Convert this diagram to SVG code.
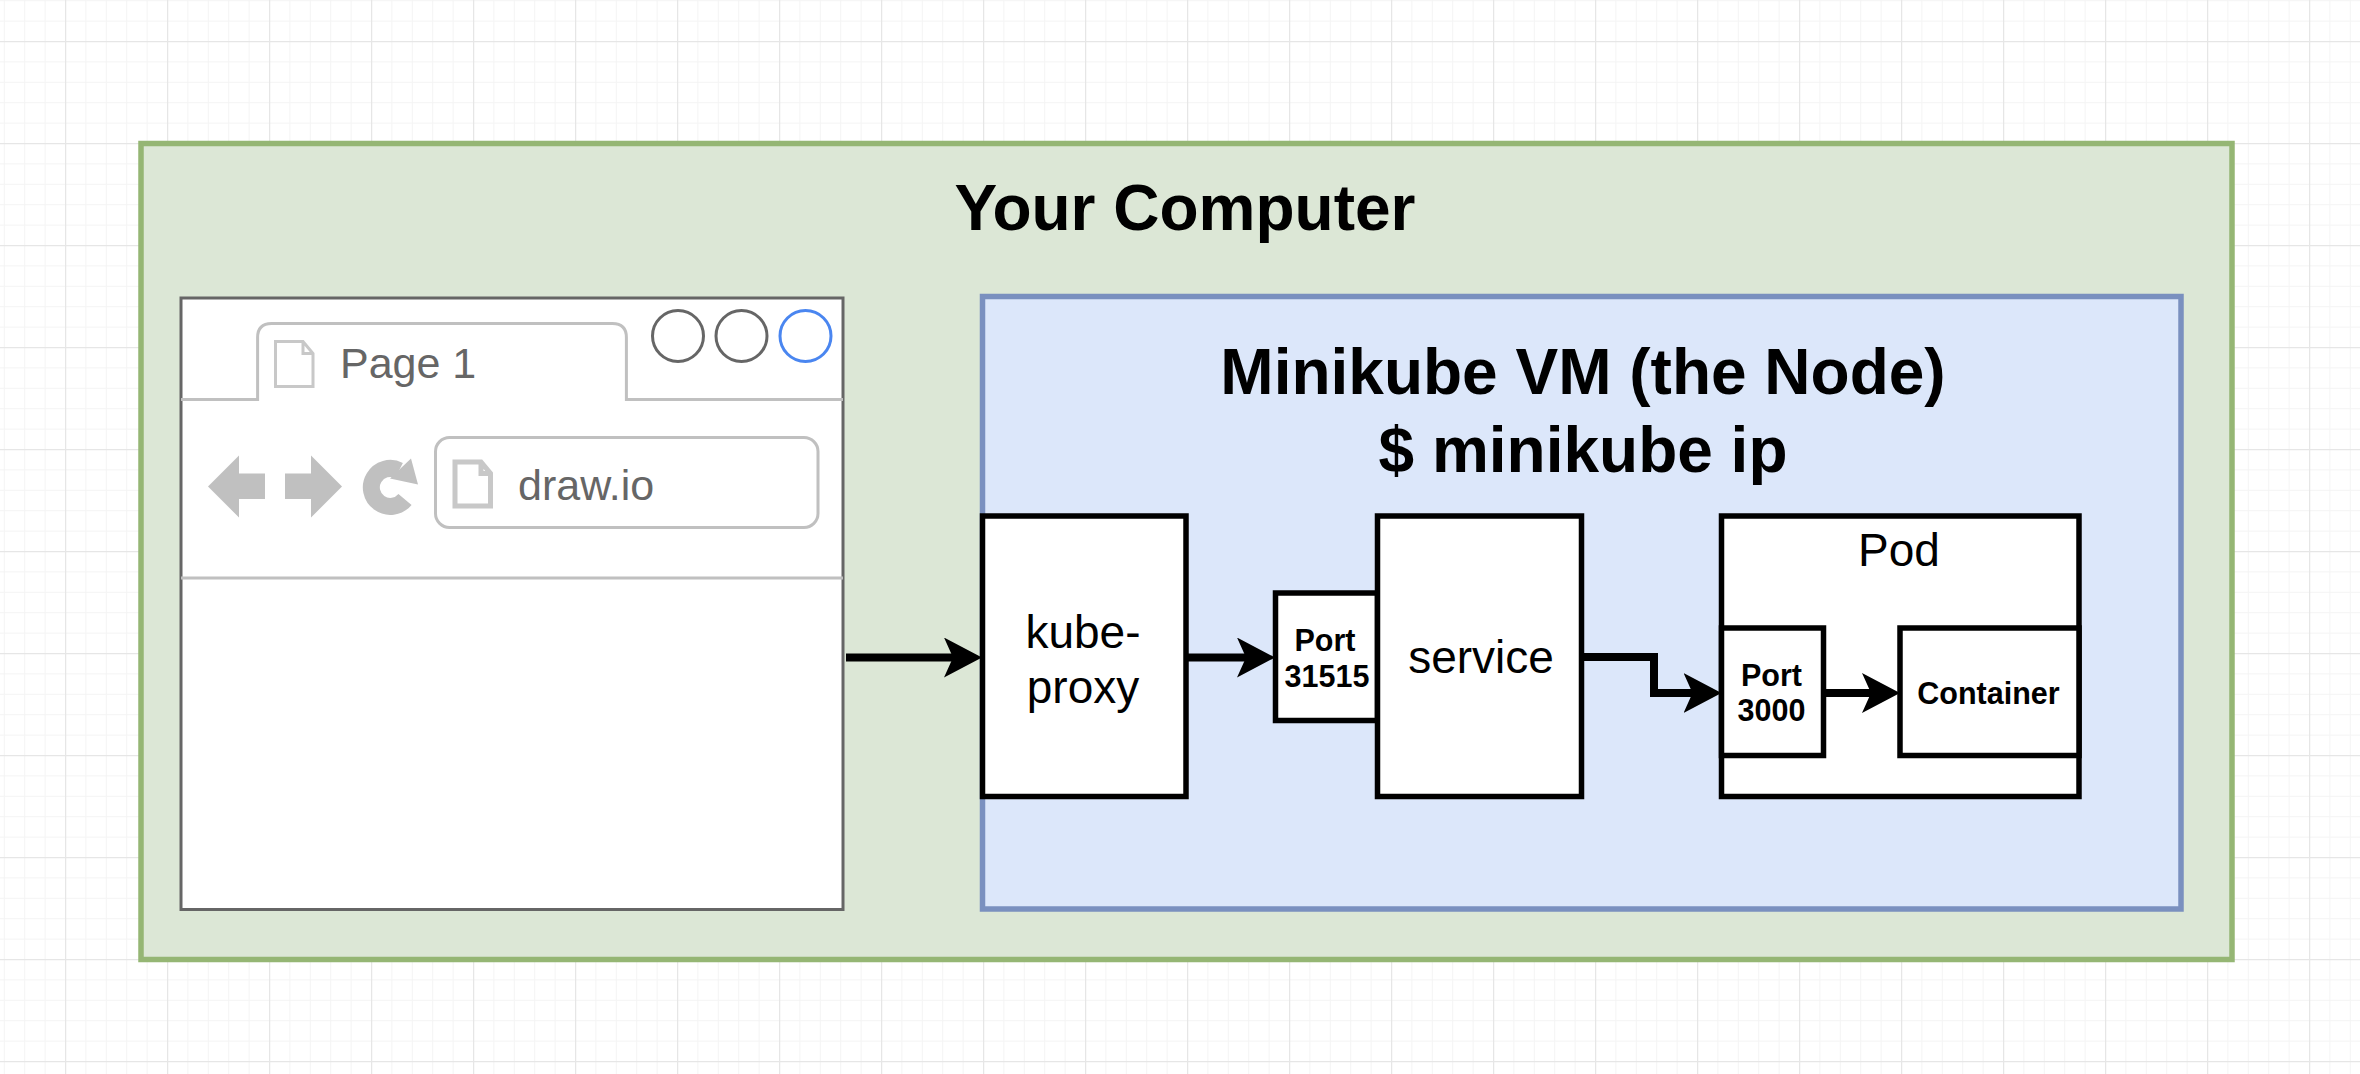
<svg xmlns="http://www.w3.org/2000/svg" width="2360" height="1074" viewBox="0 0 2360 1074">
<style>
text{font-family:"Liberation Sans",Arial,sans-serif;text-anchor:middle;fill:#000}
.h{font-size:64px;font-weight:700}
.n{font-size:46px}
.b{font-size:30.5px;font-weight:700}
.g{fill:#666;text-anchor:start;font-size:43px}
.box{fill:#fff;stroke:#000;stroke-width:5.5}
.ln{fill:#fff;stroke:#c0c0c0;stroke-width:3}
.c{fill:none;stroke:#000;stroke-width:8;marker-end:url(#ah)}
</style>
<defs>
<pattern id="grid" patternUnits="userSpaceOnUse" x="65" y="41" width="102" height="102">
<path d="M20.9 0V102M41.3 0V102M61.7 0V102M82.1 0V102M0 20.9H102M0 41.3H102M0 61.7H102M0 82.1H102" fill="none" stroke="#f4f4f4" stroke-width="1"/>
<path d="M.5 0V102M0 .5H102" fill="none" stroke="#e6e6e6" stroke-width="1.5"/>
</pattern>
<marker id="ah" markerUnits="userSpaceOnUse" markerWidth="38" markerHeight="40" viewBox="0 0 38 40" refX="12" refY="20" orient="auto">
<path d="M0 0L38 20L0 40L9 20Z" fill="#000"/>
</marker>
</defs>
<rect width="2360" height="1074" fill="#fff"/>
<rect width="2360" height="1074" fill="url(#grid)"/>
<g id="computer">
<rect x="141" y="143.500" width="2091" height="816" fill="#dce7d6" stroke="#95b674" stroke-width="5.500"/>
<text class="h" x="1185" y="230">Your Computer</text>
</g>
<g id="browser">
<rect x="181" y="298" width="662" height="611.500" fill="#fff" stroke="#666" stroke-width="3"/>
<path d="M181 399.500H257.600V337.500Q257.600 323.500 271.600 323.500H612.400Q626.400 323.500 626.400 337.500V399.500H843M181 578H843" fill="none" stroke="#c0c0c0" stroke-width="3"/>
<path d="M275.500 341.500H303L313 353.500V386.500H275.500ZM303 341.500V353.500H313" fill="#fff" stroke="#c8c8c8" stroke-width="3"/>
<text class="g" x="340" y="378">Page 1</text>
<circle cx="678" cy="336" r="25.500" fill="none" stroke="#666" stroke-width="3"/>
<circle cx="741.500" cy="336" r="25.500" fill="none" stroke="#666" stroke-width="3"/>
<circle cx="805.500" cy="336" r="25.500" fill="none" stroke="#4a86f0" stroke-width="3"/>
<path d="M208 486.500L239 455.500V473.500H265V499H239V517.500Z" fill="#c0c0c0"/>
<path d="M342 486.500L311 455.500V473.500H285V499H311V517.500Z" fill="#c0c0c0"/>
<path d="M405 499.500A19 19 0 1 1 399 470.500" fill="none" stroke="#c0c0c0" stroke-width="17"/>
<path d="M411 458.500L418 484.500L390 478.500Z" fill="#c0c0c0"/>
<rect class="ln" x="435.500" y="437.500" width="382.500" height="90" rx="14"/>
<path d="M455 462H481L490.500 473.500V506H455ZM481 462V473.500H490.500" fill="#fff" stroke="#c8c8c8" stroke-width="5"/>
<text class="g" x="518" y="500">draw.io</text>
</g>
<g id="minikube-vm">
<rect x="982.500" y="296.500" width="1198.500" height="612.500" fill="#dce7fa" stroke="#7a90bf" stroke-width="5.500"/>
<text class="h" x="1583" y="394">Minikube VM (the Node)</text>
<text class="h" x="1583" y="472">$ minikube ip</text>
</g>
<g id="kube-proxy">
<rect class="box" x="982.500" y="516" width="203.500" height="280.500"/>
<text class="n" x="1083" y="648">kube-</text>
<text class="n" x="1083" y="703">proxy</text>
</g>
<g id="port-31515">
<rect class="box" x="1275.500" y="593" width="102" height="127.500"/>
<text class="b" x="1325" y="651">Port</text>
<text class="b" x="1327" y="687">31515</text>
</g>
<g id="service">
<rect class="box" x="1377.500" y="516" width="204" height="280.500"/>
<text class="n" x="1481" y="673">service</text>
</g>
<g id="pod">
<rect class="box" x="1721.500" y="516" width="357.500" height="280.500"/>
<text class="n" x="1899" y="566">Pod</text>
</g>
<g id="port-3000">
<rect class="box" x="1721.500" y="628" width="102" height="127.500"/>
<text class="b" x="1771.500" y="686">Port</text>
<text class="b" x="1771.500" y="721">3000</text>
</g>
<g id="container">
<rect class="box" x="1900" y="628" width="179" height="127.500"/>
<text class="b" x="1988.500" y="704">Container</text>
</g>
<g id="connectors">
<path class="c" d="M846 657.500H956"/>
<path class="c" d="M1186 657.500H1249"/>
<path class="c" d="M1581.500 657H1654V693H1695.500"/>
<path class="c" d="M1823.500 693H1874"/>
</g>
</svg>
